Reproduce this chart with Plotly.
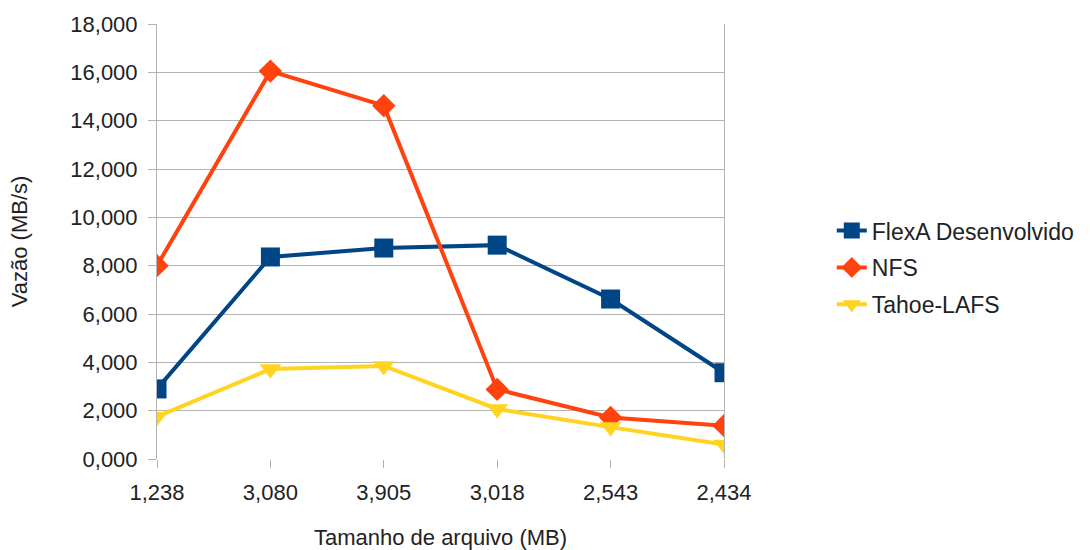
import plotly.graph_objects as go

# File sizes (MB), written with a decimal comma
categorias = ["1,238", "3,080", "3,905", "3,018", "2,543", "2,434"]

# Throughput (MB/s)
flexa = [2.90, 8.36, 8.73, 8.85, 6.62, 3.57]
nfs = [8.00, 16.05, 14.62, 2.88, 1.72, 1.38]
tahoe = [1.75, 3.72, 3.85, 2.07, 1.32, 0.60]

y_ticks = [0, 2, 4, 6, 8, 10, 12, 14, 16, 18]
y_tick_text = [f"{v:,.3f}".replace(".", ",") for v in y_ticks]

series = [
    ("FlexA Desenvolvido", flexa, "#004586", "square", 19),
    ("NFS", nfs, "#ff420e", "diamond", 18),
    ("Tahoe-LAFS", tahoe, "#ffd320", "triangle-down", 19),
]

fig = go.Figure()
for nome, valores, cor, simbolo, tam in series:
    fig.add_trace(go.Scatter(
        x=list(range(len(categorias))),
        y=valores,
        name=nome,
        legendgroup=nome,
        mode="lines+markers",
        line=dict(color=cor, width=4),
        marker=dict(symbol=simbolo, size=tam, color=cor),
    ))

grid = "#b3b3b3"
fig.update_layout(
    width=1090,
    height=550,
    margin=dict(l=157, r=365, t=24, b=91),
    paper_bgcolor="white",
    plot_bgcolor="white",
    font=dict(family="Liberation Sans, Arial, sans-serif", size=22, color="#222222"),
    showlegend=True,
    legend=dict(
        x=1.188, y=0.44, xanchor="left", yanchor="middle",
        font=dict(size=23, color="#222222"),
        tracegroupgap=4,
    ),
    xaxis=dict(
        range=[0, len(categorias) - 1],
        tickvals=list(range(len(categorias))),
        ticktext=categorias,
        automargin=False,
        showgrid=False,
        showline=False,
        zeroline=False,
        ticks="outside",
        ticklen=8,
        tickcolor=grid,
        ticklabelstandoff=6,
        tickfont=dict(size=22),
        title=dict(text="Tamanho de arquivo (MB)", font=dict(size=22), standoff=29),
    ),
    yaxis=dict(
        range=[0, 18],
        tickvals=y_ticks,
        ticktext=y_tick_text,
        automargin=False,
        showgrid=True,
        gridcolor=grid,
        gridwidth=1,
        showline=True,
        linecolor=grid,
        linewidth=1,
        mirror=True,
        zeroline=False,
        ticks="outside",
        ticklen=8,
        tickcolor=grid,
        ticklabelstandoff=6,
        tickfont=dict(size=22),
        title=dict(text="Vazão (MB/s)", font=dict(size=22), standoff=36),
    ),
)

fig.write_html("out.html")
